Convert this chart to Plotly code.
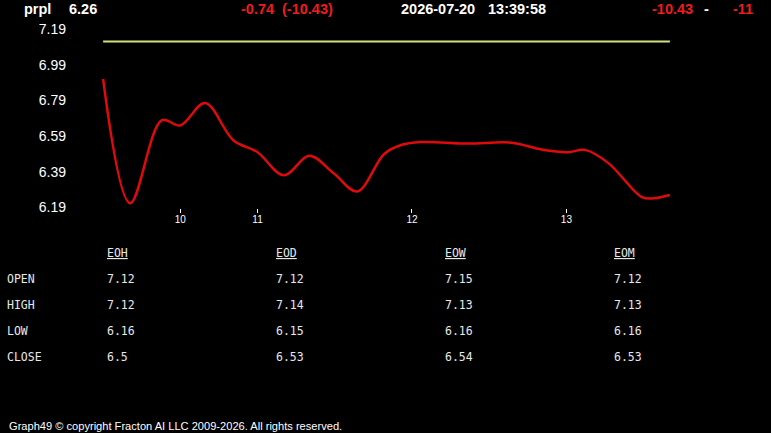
import plotly.graph_objects as go

W, H = 771, 433
FIG_H = 441  # page is photographed slightly taller, then fitted to 433

# ---- data ----
symbol = "prpl"
last_price = "6.26"
change = "-0.74"
change_pct = "(-10.43)"
date_str = "2026-07-20"
time_str = "13:39:58"
right_pct = "-10.43"
right_sep = "-"
right_val = "-11"

# price curve (x = intraday sample index)
x_idx = [0, 3.5, 7.6, 10, 13.2, 16.9, 20, 23.4, 26.7, 29.9, 32.9, 36.4, 38.6,
         41.2, 47.2, 52.9, 56.8, 60.2, 62.4, 65.4, 69.7, 71.0, 73.4]
price = [6.91, 6.214, 6.68, 6.65, 6.775, 6.565, 6.50, 6.37, 6.48, 6.38, 6.28, 6.49, 6.54,
         6.557, 6.548, 6.553, 6.515, 6.50, 6.513, 6.44, 6.25, 6.24, 6.26]
open_x = [0, 73.4]
open_price = [7.12, 7.12]

x_tickvals = [10, 20, 40, 60]
x_ticktext = ["10", "11", "12", "13"]
y_tickvals = [6.19, 6.39, 6.59, 6.79, 6.99, 7.19]

table_cols = ["EOH", "EOD", "EOW", "EOM"]
table_rows = ["OPEN", "HIGH", "LOW", "CLOSE"]
table_vals = [
    ["7.12", "7.12", "6.16", "6.5"],
    ["7.12", "7.14", "6.15", "6.53"],
    ["7.15", "7.13", "6.16", "6.54"],
    ["7.12", "7.13", "6.16", "6.53"],
]
footer = "Graph49 © copyright Fracton AI LLC 2009-2026. All rights reserved."


def px(x):
    return x / W


def py(y):
    return 1 - y / H


fig = go.Figure()
fig.add_trace(go.Scatter(x=open_x, y=open_price, mode="lines",
                         line=dict(color="#d2e27a", width=2), hoverinfo="skip"))
fig.add_trace(go.Scatter(x=x_idx, y=price, mode="lines",
                         line=dict(color="#e00a0a", width=2.5, shape="spline", smoothing=1.0),
                         hoverinfo="skip"))

ann = []
SANS = "Liberation Sans, Arial, sans-serif"
MONO = "DejaVu Sans Mono, monospace"


def hdr(text, x, color):
    ann.append(dict(text="<b>%s</b>" % text, x=px(x), y=py(9), xref="paper", yref="paper",
                    xanchor="left", yanchor="middle", showarrow=False,
                    font=dict(family=SANS, size=14.5, color=color)))


hdr(symbol, 22, "white")
hdr(last_price, 67, "white")
hdr(change, 239, "#f01c1c")
hdr(change_pct, 280, "#f01c1c")
hdr(date_str, 399, "white")
hdr(time_str, 486, "white")
hdr(right_pct, 650, "#f01c1c")
hdr(right_sep, 702, "white")
hdr(right_val, 731, "#f01c1c")

col_x = [105, 274, 443, 612]
row_y = [278, 304, 330, 356]
for cx, name, vals in zip(col_x, table_cols, table_vals):
    ann.append(dict(text="<u>%s</u>" % name, x=px(cx), y=py(252), xref="paper", yref="paper",
                    xanchor="left", yanchor="middle", showarrow=False,
                    font=dict(family=MONO, size=11.5, color="#e8e8e8")))
    for ry, v in zip(row_y, vals):
        ann.append(dict(text=v, x=px(cx), y=py(ry), xref="paper", yref="paper",
                        xanchor="left", yanchor="middle", showarrow=False,
                        font=dict(family=MONO, size=11.5, color="#e8e8e8")))
for ry, r in zip(row_y, table_rows):
    ann.append(dict(text=r, x=px(5), y=py(ry), xref="paper", yref="paper",
                    xanchor="left", yanchor="middle", showarrow=False,
                    font=dict(family=MONO, size=11.5, color="#e8e8e8")))

ann.append(dict(text=footer, x=px(7), y=py(425), xref="paper", yref="paper",
                xanchor="left", yanchor="middle", showarrow=False,
                font=dict(family=SANS, size=11.1, color="white")))

fig.update_layout(
    width=W, height=FIG_H,
    margin=dict(l=0, r=0, t=0, b=0),
    paper_bgcolor="black", plot_bgcolor="black",
    showlegend=False,
    annotations=ann,
    xaxis=dict(domain=[px(75), px(700)], range=[-3.64, 77.3],
               tickvals=x_tickvals, ticktext=x_ticktext,
               ticks="outside", ticklen=4, tickcolor="white", tickwidth=1,
               ticklabelstandoff=-2,
               tickfont=dict(family=SANS, size=10, color="white"),
               showgrid=False, zeroline=False, showline=False),
    yaxis=dict(domain=[py(208), py(20)], range=[6.1844, 7.2406],
               tickvals=y_tickvals, tickformat=".2f",
               ticks="", ticklabelstandoff=8,
               tickfont=dict(family=SANS, size=14, color="white"),
               showgrid=False, zeroline=False, showline=False),
)

fig.write_html("out.html")
